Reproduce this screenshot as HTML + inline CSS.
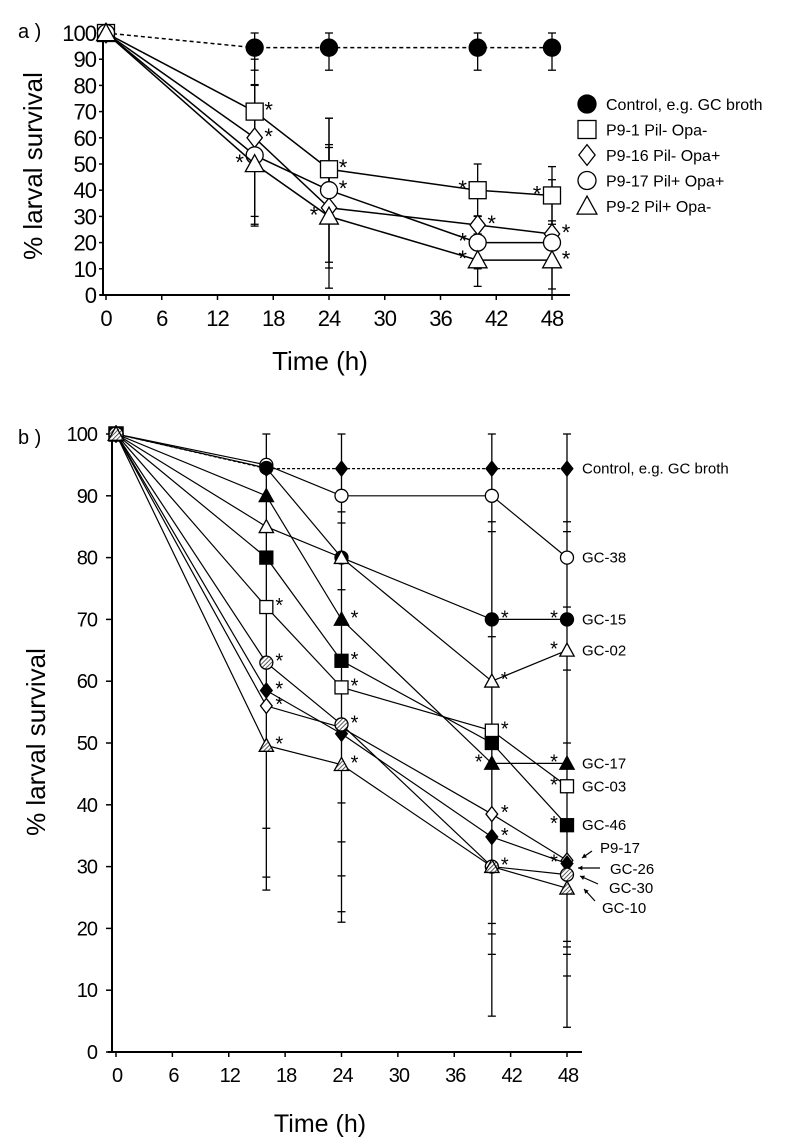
<!DOCTYPE html>
<html><head><meta charset="utf-8"><style>
html,body{margin:0;padding:0;background:#fff;}
svg{display:block;font-family:"Liberation Sans",Arial,sans-serif;}
.nar{font-family:"Liberation Sans Narrow","Liberation Sans",sans-serif;}
</style></head><body>
<svg id="fig" width="800" height="1147" viewBox="0 0 800 1147" xmlns="http://www.w3.org/2000/svg"></svg>
<script>
// ---------- Panel a data ----------
const timesA = [0, 16, 24, 40, 48];
const namesA = ["Control, e.g. GC broth", "P9-1 Pil- Opa-", "P9-16 Pil- Opa+", "P9-17 Pil+ Opa+", "P9-2 Pil+ Opa-"];
const shapesA = ["circleF", "square", "diamond", "circle", "triangle"];
const controlA = [100, 94.4, 94.4, 94.4, 94.4];
const p91A = [100, 70, 48, 40, 38];
const p916A = [100, 60, 33.3, 26.7, 23.3];
const p917A = [100, 53.3, 40, 20, 20];
const p92A = [100, 50, 30, 13.3, 13.3];
const errControlA = [0, 8.6, 8.6, 8.6, 8.6];
const errP91A = [0, 10, 19.5, 10, 11];
const errP916A = [0, 30, 23, 3.5, 5];
const errP917A = [0, 27, 27.5, 10, 24];
const errP92A = [0, 23, 27.4, 10, 11];
const yTicksA = [0,10,20,30,40,50,60,70,80,90,100];
const xTicksA = [0,6,12,18,24,30,36,42,48];
const starsA = [[1,1,"r"],[2,1,"r"],[4,1,"l"],[1,2,"r"],[3,2,"r"],[4,2,"l"],[1,3,"l"],[2,3,"r"],[3,3,"l"],[4,3,"l"],[1,4,"l"],[2,4,"r"],[3,4,"r2"]];

// ---------- Panel b data ----------
const timesB = [0, 16, 24, 40, 48];
const namesB = ["Control, e.g. GC broth","GC-38","GC-15","GC-02","GC-17","GC-03","GC-46","P9-17","GC-26","GC-30","GC-10"];
const shapesB = ["diamondF","circle","circleF","triangle","triangleF","square","squareF","diamond","diamondF","circleH","triangleH"];
const controlB = [100, 94.4, 94.4, 94.4, 94.4];
const gc38B = [100, 95, 90, 90, 80];
const gc15B = [100, 94.5, 80, 70, 70];
const gc02B = [100, 85, 80, 60, 65];
const gc17B = [100, 90, 70, 46.7, 46.7];
const gc03B = [100, 72, 59, 52, 43];
const gc46B = [100, 80, 63.3, 50, 36.7];
const p917B = [100, 56, 52.5, 38.5, 31];
const gc26B = [100, 58.5, 51.5, 34.8, 30.5];
const gc30B = [100, 63, 53, 30, 28.7];
const gc10B = [100, 49.6, 46.5, 30, 26.5];
const capsB = [[], [100,36.2,28.3,26.2], [100,87.4,85.6,74.8,40.3,34,28.5,22.7,21], [100,85.8,84.2,67.2,20.8,19.1,15.8,5.8], [100,85.8,84.2,72,61.8,50,17.9,17,15.8,12.3,4]];
const yTicksB = [0,10,20,30,40,50,60,70,80,90,100];
const xTicksB = [0,6,12,18,24,30,36,42,48];
const starsB = [[5,1],[9,1],[8,1],[7,1],[10,1],[4,2],[6,2],[5,2],[9,2],[10,2],[2,3],[3,3],[5,3],[7,3],[8,3],[9,3],[4,3,"l"],[2,4,"l"],[3,4,"l"],[4,4,"l"],[5,4,"l"],[6,4,"l"],[8,4,"l"]];

const NS = "http://www.w3.org/2000/svg";
const svg = document.getElementById("fig");
function mk(tag, attrs, parent){ const e=document.createElementNS(NS,tag); for(const k in attrs) e.setAttribute(k,attrs[k]); (parent||svg).appendChild(e); return e; }
function txt(s, attrs, parent){ const e=mk("text",attrs,parent); e.textContent=s; return e; }

const defs = mk("defs",{});
const pat = mk("pattern",{id:"hatch",width:"3",height:"3",patternUnits:"userSpaceOnUse",patternTransform:"rotate(45)"},defs);
mk("rect",{width:"3",height:"3",fill:"#fff"},pat);
mk("line",{x1:"0",y1:"0",x2:"0",y2:"3",stroke:"#333","stroke-width":"1.6"},pat);

function marker(g, shape, x, y, r){
  let fill = "#fff";
  if(shape.endsWith("F")) fill = "#000";
  if(shape.endsWith("H")) fill = "url(#hatch)";
  const base = shape.replace(/[FH]$/,"");
  const st = {fill:fill, stroke:"#000", "stroke-width":"1.3"};
  let e;
  if(base==="circle") e=mk("circle",Object.assign({cx:x,cy:y,r:r},st),g);
  else if(base==="square") e=mk("rect",Object.assign({x:x-r,y:y-r,width:2*r,height:2*r},st),g);
  else if(base==="diamond") e=mk("polygon",Object.assign({points:`${x},${y-r*1.15} ${x+r*0.9},${y} ${x},${y+r*1.15} ${x-r*0.9},${y}`},st),g);
  else e=mk("polygon",Object.assign({points:`${x},${y-r*1.1} ${x+r*1.1},${y+r*0.9} ${x-r*1.1},${y+r*0.9}`},st),g);
  return e;
}

// ================= PANEL A =================
(function(){
  const X0=106, X1=552, Y0=295, Y1=33;
  const xs = t => X0 + (X1-X0)*t/48;
  const ys = v => Y0 - (Y0-Y1)*v/100;
  const g = mk("g",{});
  
  
  txt("a )",{x:18,y:38,"font-size":"20"},g);
  const ax = mk("g",{},g);
  
  
  mk("line",{x1:103,y1:Y0,x2:103,y2:Y1-3,stroke:"#000","stroke-width":"2"},ax);
  mk("line",{x1:100,y1:Y0,x2:570,y2:Y0,stroke:"#000","stroke-width":"2"},ax);
  yTicksA.forEach(v=>{ mk("line",{x1:99,x2:103,y1:ys(v),y2:ys(v),stroke:"#000","stroke-width":"1.5"},ax);
    const t=txt(String(v),{x:96,y:ys(v)+8,"font-size":"22","text-anchor":"end","letter-spacing":"-1"},ax);  });
  xTicksA.forEach(v=>{ mk("line",{x1:xs(v),x2:xs(v),y1:Y0,y2:Y0+5,stroke:"#000","stroke-width":"1.5"},ax);
    const t=txt(String(v),{x:xs(v),y:Y0+31,"font-size":"22","text-anchor":"middle","letter-spacing":"-1"},ax);  });
  const xt=txt("Time (h)",{x:320,y:370,"font-size":"26","text-anchor":"middle"},ax);
   
  const yt=txt("% larval survival",{x:0,y:0,"font-size":"26","text-anchor":"middle",transform:"translate(42,166) rotate(-90)"},ax);
   

  const series=[controlA,p91A,p916A,p917A,p92A];
  const errs=[errControlA,errP91A,errP916A,errP917A,errP92A];
  const eg = mk("g",{},g);
   
  series.forEach((s,si)=>{ s.forEach((v,i)=>{ const e=errs[si][i]; if(!e) return;
    const hi=Math.min(100,v+e), lo=Math.max(0,v-e);
    mk("line",{x1:xs(timesA[i]),x2:xs(timesA[i]),y1:ys(hi),y2:ys(lo),stroke:"#000","stroke-width":"1.3"},eg);
    [hi,lo].forEach(c=>mk("line",{x1:xs(timesA[i])-4,x2:xs(timesA[i])+4,y1:ys(c),y2:ys(c),stroke:"#000","stroke-width":"1.3"},eg));
  });});
  series.forEach((s,si)=>{
    const sg=mk("g",{},g);
    
    
    mk("polyline",{points:s.map((v,i)=>xs(timesA[i])+","+ys(v)).join(" "),fill:"none",stroke:"#000","stroke-width":"1.5","stroke-dasharray":si===0?"4,3":"none"},sg);
    s.forEach((v,i)=>marker(sg,shapesA[si],xs(timesA[i]),ys(v),si===0?8.5:8.5));
  });
  starsA.forEach(([si,i,side])=>{ const x=xs(timesA[i]), y=ys(series[si][i]);
    const dx = side==="l"?-15:14; const dy = side==="r2"?24:6;
    const t=txt("*",{x:x+dx,y:y+dy,"font-size":"22","text-anchor":"middle"},g);  });

  const lg=mk("g",{},g);
   
  namesA.forEach((n,i)=>{ const y=104+i*25.5;
    const eg2=mk("g",{},lg);  
    marker(eg2,shapesA[i],587,y,9);
    txt(n,{x:606,y:y+6,"font-size":"16"},eg2);
  });
})();

// ================= PANEL B =================
(function(){
  const X0=116, X1=567, Y0=1052, Y1=434;
  const xs = t => X0 + (X1-X0)*t/48;
  const ys = v => Y0 - (Y0-Y1)*v/100;
  const g = mk("g",{class:"nar"});
  
  
  txt("b )",{x:18,y:444,"font-size":"20",class:"nar"},g);
  const ax=mk("g",{},g);
   
  mk("line",{x1:112,y1:Y0,x2:112,y2:Y1-5,stroke:"#000","stroke-width":"2"},ax);
  mk("line",{x1:108,y1:Y0,x2:582,y2:Y0,stroke:"#000","stroke-width":"2"},ax);
  yTicksB.forEach(v=>{ mk("line",{x1:106,x2:112,y1:ys(v),y2:ys(v),stroke:"#000","stroke-width":"1.5"},ax);
    const t=txt(String(v),{x:97,y:ys(v)+7,"font-size":"20","text-anchor":"end","letter-spacing":"-1"},ax);  });
  xTicksB.forEach(v=>{ mk("line",{x1:xs(v),x2:xs(v),y1:Y0,y2:Y0+5,stroke:"#000","stroke-width":"1.5"},ax);
    const t=txt(String(v),{x:xs(v)+1,y:Y0+30,"font-size":"20","text-anchor":"middle","letter-spacing":"-1"},ax);  });
  const xt=txt("Time (h)",{x:320,y:1132,"font-size":"25","text-anchor":"middle"},ax);
   
  const yt=txt("% larval survival",{x:0,y:0,"font-size":"26","text-anchor":"middle",transform:"translate(45,742) rotate(-90)",style:"font-family:'Liberation Sans',sans-serif"},ax);
   

  const eg=mk("g",{},g);
   
  capsB.forEach((caps,i)=>{ if(!caps.length) return; const x=xs(timesB[i]);
    mk("line",{x1:x,x2:x,y1:ys(Math.max(...caps)),y2:ys(Math.min(...caps)),stroke:"#000","stroke-width":"1.3"},eg);
    caps.forEach(c=>mk("line",{x1:x-4,x2:x+4,y1:ys(c),y2:ys(c),stroke:"#000","stroke-width":"1.3"},eg));
  });
  const series=[controlB,gc38B,gc15B,gc02B,gc17B,gc03B,gc46B,p917B,gc26B,gc30B,gc10B];
  series.forEach((s,si)=>{
    const sg=mk("g",{},g);
    
    
    mk("polyline",{points:s.map((v,i)=>xs(timesB[i])+","+ys(v)).join(" "),fill:"none",stroke:"#000","stroke-width":"1.2","stroke-dasharray":si===0?"3,2":"none"},sg);
  });
  series.forEach((s,si)=>{
    const sg=mk("g",{},g);
    
    
    s.forEach((v,i)=>marker(sg,shapesB[si],xs(timesB[i]),ys(v),i===0?7:6.5));
  });
  starsB.forEach(([si,i,side])=>{ const x=xs(timesB[i]), y=ys(series[si][i]);
    const dx = side==="l"?-13:13;
    const t=txt("*",{x:x+dx,y:y+5,"font-size":"20","text-anchor":"middle"},g);  });

  const lab=mk("g",{},g);
   
  const direct=[0,1,2,3,4,5,6];
  direct.forEach(si=>{ const t=txt(namesB[si],{x:582,y:ys(series[si][4])+5,"font-size":"15"},lab);
     });
  const arrowLabels=[[600,853,592,851,582,858],[610,874,600,868,578,868],[609,893,598,884,580,876],[602,913,595,901,584,889]];
  const arrowSeries=[7,8,9,10];
  arrowLabels.forEach(([tx,ty,ax1,ay1,ax2,ay2],k)=>{
    const t=txt(namesB[arrowSeries[k]],{x:tx,y:ty,"font-size":"15"},lab);
     
    mk("line",{x1:ax1,y1:ay1,x2:ax2,y2:ay2,stroke:"#000","stroke-width":"1.2"},lab);
    const ang=Math.atan2(ay2-ay1,ax2-ax1), L=5;
    mk("polygon",{points:`${ax2},${ay2} ${ax2-L*Math.cos(ang-0.5)},${ay2-L*Math.sin(ang-0.5)} ${ax2-L*Math.cos(ang+0.5)},${ay2-L*Math.sin(ang+0.5)}`,fill:"#000"},lab);
  });
})();
</script>
</body></html>
